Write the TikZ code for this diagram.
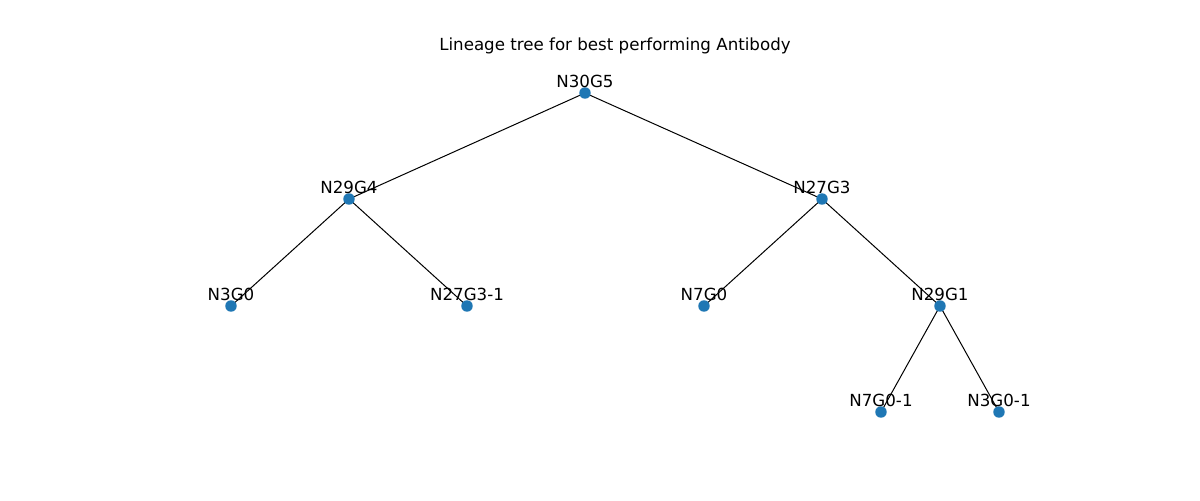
\documentclass[tikz,border=0pt]{standalone}
\usepackage{fontspec}
\setmainfont{DejaVu Sans}
\definecolor{nodeblue}{HTML}{1F77B4}
\begin{document}
\begin{tikzpicture}[x=0.75pt,y=-0.75pt,
  dot/.style={circle,fill=nodeblue,inner sep=0pt,minimum size=8.6pt},
  lbl/.style={font=\fontsize{12.5}{15}\selectfont,inner sep=0pt,anchor=center},
  edge/.style={draw=black,line width=0.75pt}]
\useasboundingbox (0,0) rectangle (1200,500);
\node[lbl] (title) at (615,46) {Lineage tree for best performing Antibody};
\coordinate (a) at (585,93);
\coordinate (b) at (349,199);
\coordinate (c) at (822,199);
\coordinate (d) at (231,306);
\coordinate (e) at (467,306);
\coordinate (f) at (704,306);
\coordinate (g) at (940,306);
\coordinate (h) at (881,412);
\coordinate (i) at (999,412);
\draw[edge] (a) -- (b) (a) -- (c) (b) -- (d) (b) -- (e) (c) -- (f) (c) -- (g) (g) -- (h) (g) -- (i);
\foreach \n in {a,b,c,d,e,f,g,h,i} \node[dot] (dot\n) at (\n) {};
\node[lbl] (la) at ([yshift=9pt]a) {N30G5};
\node[lbl] (lb) at ([yshift=9pt]b) {N29G4};
\node[lbl] (lc) at ([yshift=9pt]c) {N27G3};
\node[lbl] (ld) at ([yshift=9pt]d) {N3G0};
\node[lbl] (le) at ([yshift=9pt]e) {N27G3-1};
\node[lbl] (lf) at ([yshift=9pt]f) {N7G0};
\node[lbl] (lg) at ([yshift=9pt]g) {N29G1};
\node[lbl] (lh) at ([yshift=9pt]h) {N7G0-1};
\node[lbl] (li) at ([yshift=9pt]i) {N3G0-1};
\end{tikzpicture}
\end{document}
